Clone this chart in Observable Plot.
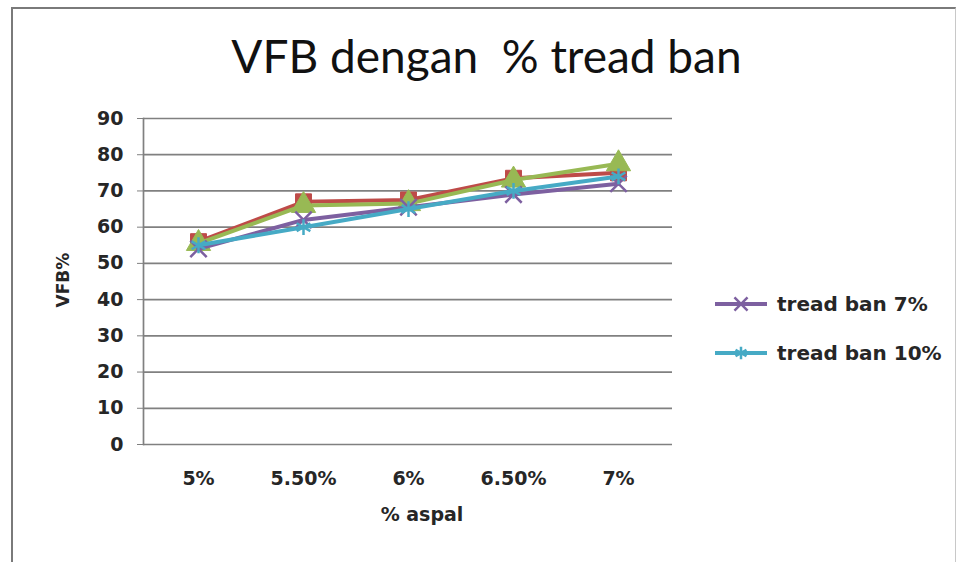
<!DOCTYPE html>
<html><head><meta charset="utf-8">
<script src="https://cdn.jsdelivr.net/npm/d3@7"></script>
<script src="https://cdn.jsdelivr.net/npm/@observablehq/plot@0.6"></script>
<style>
body{margin:0;background:#fff;}
#wrap{position:relative;width:957px;height:562px;overflow:hidden;background:#fff;}
#frame{position:absolute;left:11px;top:7px;width:942px;height:620px;border-left:2px solid #7a7a7a;border-top:2px solid #7a7a7a;border-right:1px solid #c8c8c8;pointer-events:none;}
#title{height:61px;padding-top:34px;padding-left:16px;text-align:center;font-family:Lato;font-size:46px;line-height:44px;color:#111;white-space:pre;}
#legend{position:absolute;left:714px;top:279px;font-family:"DejaVu Sans";font-weight:bold;font-size:20px;color:#262626;}
.row{display:flex;align-items:center;height:49px;}
.row span{margin-left:9px;}
svg{display:block;}
</style></head>
<body>
<div id="wrap">
<div id="title"></div>
<div id="chart"></div>
<div id="legend"></div>
<div id="frame"></div>
</div>
<script>
// ---- data ----
const titleText = "VFB dengan  % tread ban";
const xLabel = "% aspal";
const yLabel = "VFB%";
const categories = ["5%", "5.50%", "6%", "6.50%", "7%"];
const yTicks = [0, 10, 20, 30, 40, 50, 60, 70, 80, 90];
const seriesNames = ["tread ban 3%", "tread ban 5%", "tread ban 7%", "tread ban 10%"];
const seriesRed = [56, 67, 67.5, 73.5, 75];
const seriesGreen = [55.5, 66, 66.5, 73, 77.5];
const seriesPurple = [54, 62, 65.5, 69, 72];
const seriesCyan = [55, 60, 65, 70, 74];
const legendShown = ["tread ban 7%", "tread ban 10%"];

// ---- styles ----
const styles = [
  {color: "#BE4B48", symbol: "square", filled: true, r: 9},
  {color: "#98B954", symbol: "triangle", filled: true, r: 9},
  {color: "#7D60A0", symbol: "times", filled: false, r: 7.5},
  {color: "#46AAC5", symbol: "asterisk", filled: false, r: 7.5}
];
const allValues = [seriesRed, seriesGreen, seriesPurple, seriesCyan];

document.getElementById("title").textContent = titleText;

const marks = [
  Plot.gridY(yTicks, {stroke: "#808080", strokeOpacity: 1, strokeWidth: 1.7}),
  Plot.axisY(yTicks, {tickSize: 6, tickPadding: 14, stroke: "#808080", label: null, fontSize: 19}),
  Plot.axisX({tickSize: 0, tickPadding: 27, label: null, fontSize: 19}),
  Plot.frame({anchor: "left", stroke: "#808080", strokeWidth: 1.7}),
  Plot.text([yLabel], {frameAnchor: "left", rotate: -90, dx: -80, dy: 26, fontSize: 17, fontWeight: "bold", fill: "#262626"}),
  Plot.text([xLabel], {frameAnchor: "bottom", dy: 76, dx: 14, fontSize: 19, fontWeight: "bold", fill: "#262626"})
];
allValues.forEach((vals, i) => {
  const data = categories.map((c, j) => ({cat: c, v: vals[j], s: seriesNames[i]}));
  const st = styles[i];
  marks.push(Plot.line(data, {x: "cat", y: "v", stroke: st.color, strokeWidth: 4}));
  marks.push(Plot.dot(data, {x: "cat", y: "v", symbol: () => st.symbol, r: st.r,
    fill: st.filled ? st.color : "none", stroke: st.color, strokeWidth: st.filled ? 1 : 2.5}));
});

const chart = Plot.plot({
  width: 957,
  height: 467,
  marginLeft: 143,
  marginRight: 285,
  marginTop: 23,
  marginBottom: 118,
  x: {type: "point", domain: categories, padding: 0.5},
  y: {domain: [0, 90]},
  symbol: {type: "identity"},
  style: {fontFamily: "DejaVu Sans", fontWeight: "bold", color: "#262626", background: "transparent"},
  marks
});
document.getElementById("chart").appendChild(chart);

// legend
const legend = document.getElementById("legend");
legendShown.forEach(name => {
  const i = seriesNames.indexOf(name);
  const st = styles[i];
  const row = document.createElement("div");
  row.className = "row";
  const sw = d3.create("svg").attr("width", 54).attr("height", 18);
  sw.append("line").attr("x1", 1).attr("x2", 53).attr("y1", 9).attr("y2", 9).attr("stroke", st.color).attr("stroke-width", 4);
  const sym = st.symbol === "times" ? d3.symbolTimes : d3.symbolAsterisk;
  sw.append("path").attr("transform", "translate(27,9)").attr("d", d3.symbol(sym, Math.PI * 36)())
    .attr("fill", "none").attr("stroke", st.color).attr("stroke-width", 2.5);
  row.appendChild(sw.node());
  const t = document.createElement("span");
  t.textContent = name;
  row.appendChild(t);
  legend.appendChild(row);
});
</script>
</body></html>
